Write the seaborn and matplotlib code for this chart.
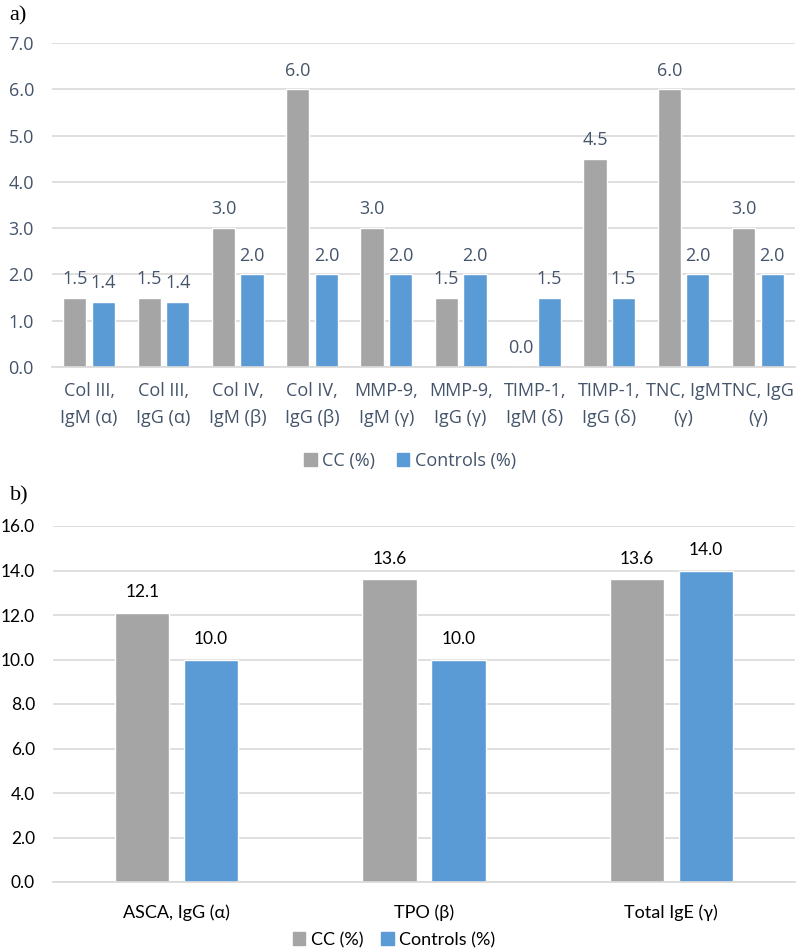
import matplotlib
matplotlib.use("Agg")
import matplotlib.pyplot as plt
import matplotlib.patches as mpatches
import pandas as pd
import seaborn as sns

# panel a) data
markers_a = ["Col III,\nIgM (α)", "Col III,\nIgG (α)", "Col IV,\nIgM (β)", "Col IV,\nIgG (β)",
             "MMP-9,\nIgM (γ)", "MMP-9,\nIgG (γ)", "TIMP-1,\nIgM (δ)", "TIMP-1,\nIgG (δ)",
             "TNC, IgM\n(γ)", "TNC, IgG\n(γ)"]
cc_a = [1.5, 1.5, 3.0, 6.0, 3.0, 1.5, 0.0, 4.5, 6.0, 3.0]
controls_a = [1.4, 1.4, 2.0, 2.0, 2.0, 2.0, 1.5, 1.5, 2.0, 2.0]
yticks_a = [0, 1, 2, 3, 4, 5, 6, 7]

# panel b) data
markers_b = ["ASCA, IgG (α)", "TPO (β)", "Total IgE (γ)"]
cc_b = [12.1, 13.6, 13.6]
controls_b = [10.0, 10.0, 14.0]
yticks_b = [0, 2, 4, 6, 8, 10, 12, 14, 16]

groups = ["CC (%)", "Controls (%)"]
GRAY = "#A5A5A5"
BLUE = "#5B9BD5"
GRID = "#D9D9D9"
TXT_A = "#44546A"

sns.set_theme(style="white")
plt.rcParams["font.family"] = ["Open Sans", "DejaVu Sans"]


def to_long(markers, cc, ctrl):
    return pd.DataFrame({
        "marker": list(markers) * 2,
        "group": [groups[0]] * len(markers) + [groups[1]] * len(markers),
        "value": list(cc) + list(ctrl),
    })


def style_axis(ax, markers, yticks, ymax, txt, fam, tick_fs, cat_fs, cat_pad, lsp):
    ax.set_ylim(0, ymax)
    ax.set_yticks(yticks)
    ax.set_yticklabels([f"{v:.1f}" for v in yticks], color=txt, fontsize=tick_fs, family=fam)
    ax.set_xticks(range(len(markers)))
    ax.set_xticklabels(markers, color=txt, fontsize=cat_fs, family=fam, linespacing=lsp)
    ax.yaxis.grid(True, color=GRID, linewidth=1.2)
    ax.set_axisbelow(True)
    for s in ["top", "right", "left"]:
        ax.spines[s].set_visible(False)
    ax.spines["bottom"].set_color(GRID)
    ax.spines["bottom"].set_linewidth(1.2)
    ax.tick_params(axis="y", length=0, pad=13)
    ax.tick_params(axis="x", length=0, pad=cat_pad)
    ax.set_xlabel("")
    ax.set_ylabel("")


fig = plt.figure(figsize=(7.96, 9.52), dpi=100)

# ---- panel a
fam_a = ["Open Sans", "DejaVu Sans"]
ax1 = fig.add_axes([52 / 796, 1 - 367 / 952, 743 / 796, 324 / 952])
df_a = to_long(markers_a, cc_a, controls_a)
sns.barplot(data=df_a, x="marker", y="value", hue="group", palette=[GRAY, BLUE],
            width=0.77, gap=0.19, legend=False, ax=ax1, saturation=1)
ax1.set_xlim(-0.5, len(markers_a) - 0.5)
style_axis(ax1, markers_a, yticks_a, 7, TXT_A, fam_a, 13, 13, 11, 1.6)
for cont in ax1.containers:
    ax1.bar_label(cont, fmt="%.1f", padding=7, color=TXT_A, fontsize=13, family=fam_a)

fig.text(0.012, 1 - 16 / 952, "a)", family=["Liberation Serif", "DejaVu Serif"],
         fontsize=16, va="center", ha="left", color="black")
h = [mpatches.Patch(color=GRAY, label=groups[0]), mpatches.Patch(color=BLUE, label=groups[1])]
fig.legend(handles=h, loc="center", bbox_to_anchor=(410 / 796, 1 - 461 / 952), ncol=2,
           frameon=False, handlelength=0.7, handleheight=0.7, handletextpad=0.3,
           columnspacing=1.2, prop={"family": fam_a, "size": 13}, labelcolor=TXT_A)

# ---- panel b
fam_b = ["Lato", "DejaVu Sans"]
ax2 = fig.add_axes([53 / 796, 1 - 882 / 952, 742 / 796, 356 / 952])
df_b = to_long(markers_b, cc_b, controls_b)
sns.barplot(data=df_b, x="marker", y="value", hue="group", palette=[GRAY, BLUE],
            width=0.556, gap=0.21, legend=False, ax=ax2, saturation=1)
ax2.set_xlim(-0.5, len(markers_b) - 0.5)
style_axis(ax2, markers_b, yticks_b, 16, "black", fam_b, 12.5, 13, 16, 1.2)
for cont in ax2.containers:
    ax2.bar_label(cont, fmt="%.1f", padding=9, color="black", fontsize=12.5, family=fam_b)

fig.text(0.012, 1 - 496 / 952, "b)", family=["Liberation Serif", "DejaVu Serif"],
         fontsize=16, va="center", ha="left", color="black")
fig.legend(handles=h, loc="center", bbox_to_anchor=(394 / 796, 1 - 940 / 952), ncol=2,
           frameon=False, handlelength=0.7, handleheight=0.7, handletextpad=0.3,
           columnspacing=1.0, prop={"family": fam_b, "size": 13}, labelcolor="black")

fig.savefig("out.png", dpi=100)
